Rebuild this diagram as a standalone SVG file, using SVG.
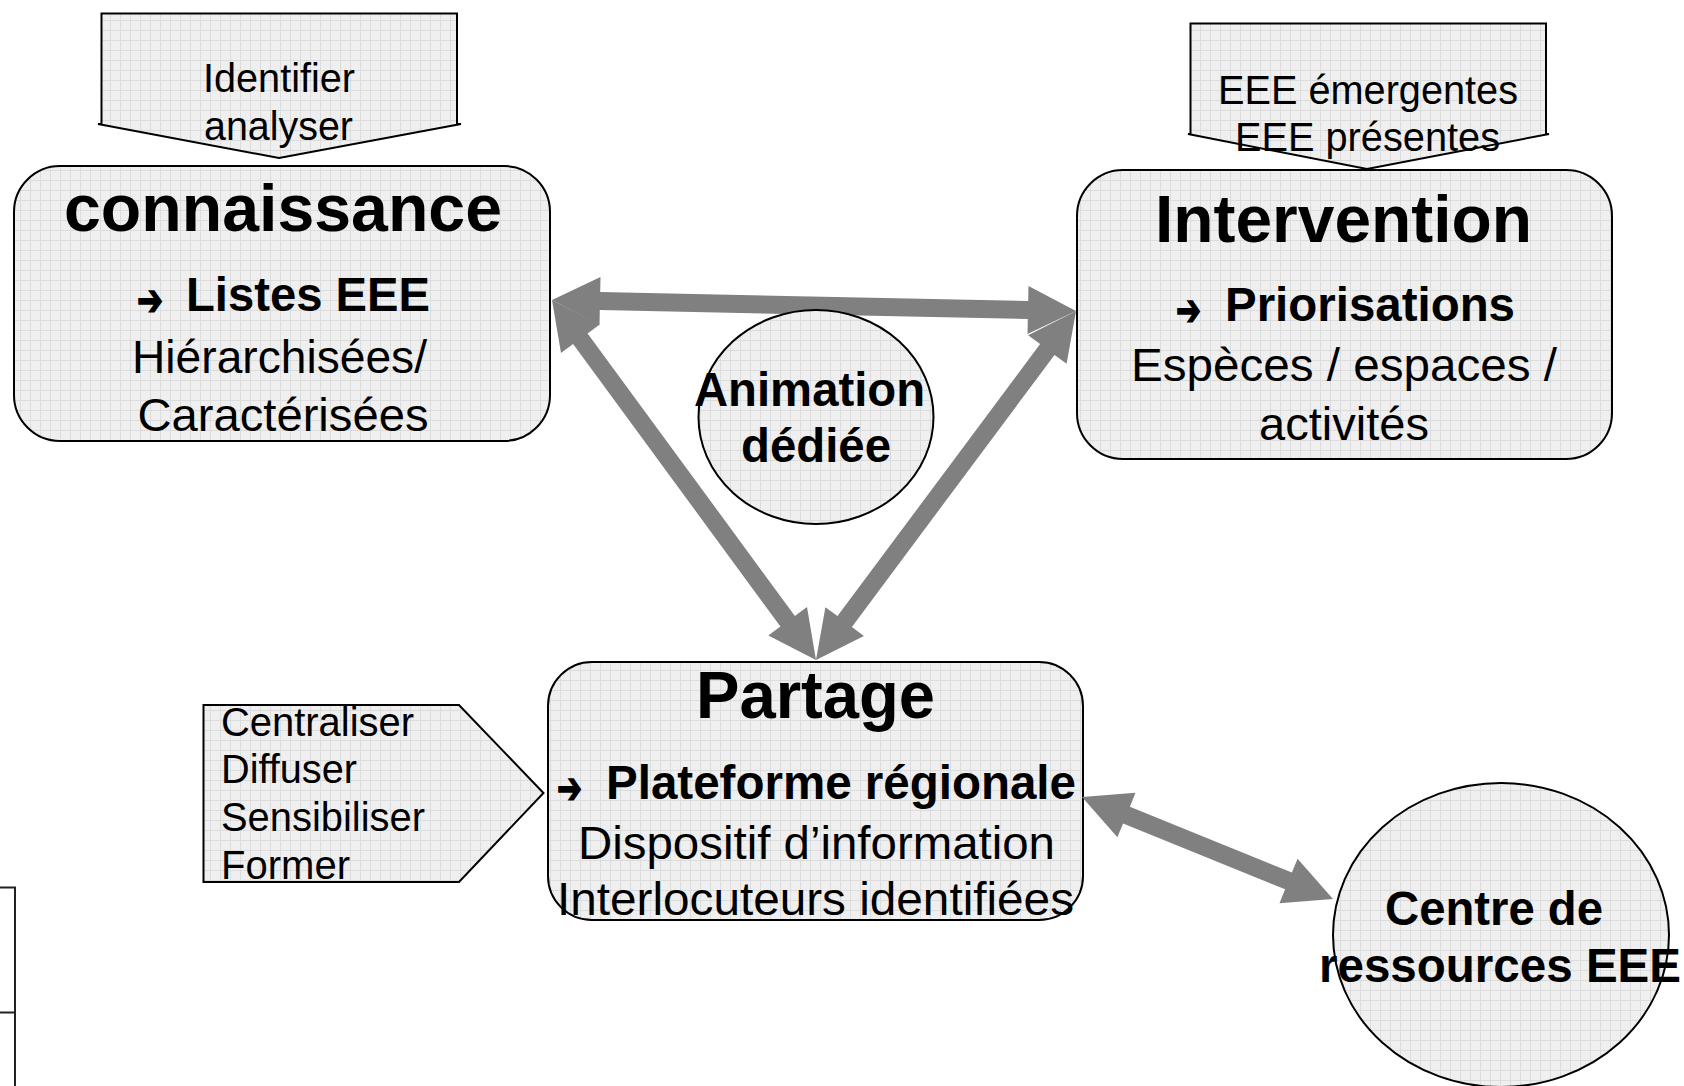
<svg xmlns="http://www.w3.org/2000/svg" width="1684" height="1086" viewBox="0 0 1684 1086">
<style>
  .shape { fill: url(#grid); stroke: #000; stroke-width: 2; }
  .t { font-family: "Liberation Sans", Arial, sans-serif; fill: #000; }
  .r40 { font-size: 40px; }
  .r46 { font-size: 46px; }
  .b47 { font-size: 48px; font-weight: bold; }
  .b66 { font-size: 67px; font-weight: bold; }
  .arr { font-family: "DejaVu Sans", sans-serif; font-size: 44px; fill: #000; stroke: #000; stroke-width: 1.5; }
  .conn { fill: #808080; stroke: none; }
  .edge { stroke: #222; stroke-width: 2; fill: none; }
</style>
<defs>
  <pattern id="grid" width="10" height="10" patternUnits="userSpaceOnUse">
    <rect width="10" height="10" fill="#EFEFEF"/>
    <path d="M0 0.5H10M0.5 0V10" stroke="#DCDCDC" stroke-width="1"/>
  </pattern>
</defs>
<rect width="1684" height="1086" fill="#FFFFFF"/>

<g id="table-fragment">
  <path class="edge" d="M0 887.5H15V1086M0 1012.5H15"/>
</g>

<g id="node-identifier">
  <polygon class="shape" points="101.5,13.5 457,13.5 457,124 461,124 279,158 98,124 101.5,124"/>
  <text class="t r40" x="203" y="92" textLength="152" lengthAdjust="spacingAndGlyphs">Identifier</text>
  <text class="t r40" x="204" y="140" textLength="149" lengthAdjust="spacingAndGlyphs">analyser</text>
</g>

<g id="node-connaissance">
  <rect class="shape" x="14" y="166" width="536" height="275" rx="46" ry="46"/>
  <text class="t b66" x="64" y="231" textLength="438" lengthAdjust="spacingAndGlyphs">connaissance</text>
  <text class="arr" x="137" y="315" textLength="26" lengthAdjust="spacingAndGlyphs">➔</text>
  <text class="t b47" x="186" y="311" textLength="244" lengthAdjust="spacingAndGlyphs">Listes EEE</text>
  <text class="t r46" x="132" y="373" textLength="295" lengthAdjust="spacingAndGlyphs">Hiérarchisées/</text>
  <text class="t r46" x="137.5" y="431" textLength="291" lengthAdjust="spacingAndGlyphs">Caractérisées</text>
</g>

<g id="node-eee">
  <polygon class="shape" points="1190.5,23.5 1546,23.5 1546,134 1549,134 1367,169 1188,134 1190.5,134"/>
  <text class="t r40" x="1218" y="104" textLength="300" lengthAdjust="spacingAndGlyphs">EEE émergentes</text>
  <text class="t r40" x="1235" y="151" textLength="265" lengthAdjust="spacingAndGlyphs">EEE présentes</text>
</g>

<g id="node-intervention">
  <rect class="shape" x="1077" y="170" width="535" height="289" rx="46" ry="46"/>
  <text class="t b66" x="1155" y="242" textLength="377" lengthAdjust="spacingAndGlyphs">Intervention</text>
  <text class="arr" x="1176" y="325" textLength="25" lengthAdjust="spacingAndGlyphs">➔</text>
  <text class="t b47" x="1225" y="321" textLength="290" lengthAdjust="spacingAndGlyphs">Priorisations</text>
  <text class="t r46" x="1131" y="381" textLength="426" lengthAdjust="spacingAndGlyphs">Espèces / espaces /</text>
  <text class="t r46" x="1259" y="440" textLength="170" lengthAdjust="spacingAndGlyphs">activités</text>
</g>

<g id="node-partage">
  <rect class="shape" x="548" y="662" width="535" height="258" rx="44" ry="44"/>
  <text class="t b66" x="696" y="718" textLength="239" lengthAdjust="spacingAndGlyphs">Partage</text>
  <text class="arr" x="557" y="803" textLength="25" lengthAdjust="spacingAndGlyphs">➔</text>
  <text class="t b47" x="606" y="799" textLength="470" lengthAdjust="spacingAndGlyphs">Plateforme régionale</text>
  <text class="t r46" x="578" y="859" textLength="477" lengthAdjust="spacingAndGlyphs">Dispositif d’information</text>
  <text class="t r46" x="557" y="915" textLength="517" lengthAdjust="spacingAndGlyphs">Interlocuteurs identifiées</text>
</g>

<g id="node-centraliser">
  <polygon class="shape" points="203.5,705 459,705 543.5,793 459,882 203.5,882"/>
  <text class="t r40" x="221" y="736" textLength="193" lengthAdjust="spacingAndGlyphs">Centraliser</text>
  <text class="t r40" x="221" y="783" textLength="136" lengthAdjust="spacingAndGlyphs">Diffuser</text>
  <text class="t r40" x="221" y="831" textLength="204" lengthAdjust="spacingAndGlyphs">Sensibiliser</text>
  <text class="t r40" x="221" y="879" textLength="129" lengthAdjust="spacingAndGlyphs">Former</text>
</g>

<g id="connectors">
  <polygon class="conn" points="552,300 599.5,325 599.8,310 1027.8,319 1027.5,334 1076,311 1028.5,286 1028.2,301 600.2,292 600.5,277"/>
  <polygon class="conn" points="552,300 561,352.9 573.1,344 780.4,626.6 768.3,635.5 816,660 807,607.1 794.9,616 587.6,333.4 599.7,324.5"/>
  <polygon class="conn" points="816,660 863.9,635.9 851.9,626.9 1054.5,354.9 1066.6,363.8 1076,311 1028.1,335.2 1040.1,344.1 837.5,616.1 825.4,607.2"/>
  <polygon class="conn" points="1082,797 1117.4,837.3 1123.1,823.4 1285.1,889.3 1279.5,903.2 1333,899 1297.6,858.7 1291.9,872.6 1129.9,806.7 1135.5,792.8"/>
</g>

<g id="node-animation">
  <ellipse class="shape" cx="816" cy="417" rx="117.5" ry="107"/>
  <text class="t b47" x="694" y="406" textLength="231" lengthAdjust="spacingAndGlyphs">Animation</text>
  <text class="t b47" x="741" y="462" textLength="150" lengthAdjust="spacingAndGlyphs">dédiée</text>
</g>

<g id="node-centre">
  <ellipse class="shape" cx="1501" cy="935" rx="168" ry="152"/>
  <text class="t b47" x="1385" y="925" textLength="218" lengthAdjust="spacingAndGlyphs">Centre de</text>
  <text class="t b47" x="1319" y="982" textLength="362" lengthAdjust="spacingAndGlyphs">ressources EEE</text>
</g>
</svg>
